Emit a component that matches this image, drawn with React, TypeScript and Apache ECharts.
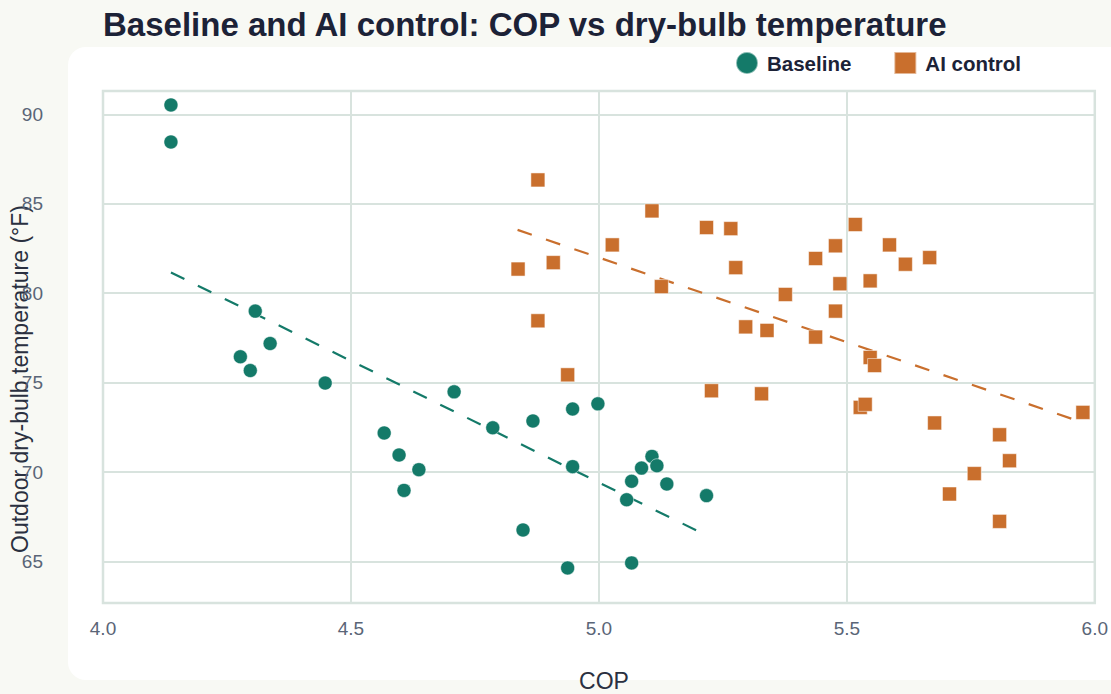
import React, { useEffect, useRef } from "react";
import * as echarts from "echarts";

const baselineCOP = [4.137, 4.137, 4.307, 4.337, 4.277, 4.297, 4.448, 4.708, 4.567, 4.597, 4.637, 4.607, 4.786, 4.867, 4.947, 4.998, 4.947, 4.847, 4.937, 5.066, 5.066, 5.056, 5.086, 5.107, 5.117, 5.137, 5.217];
const baselineTemp = [90.52, 88.45, 79.0, 77.19, 76.45, 75.68, 74.98, 74.49, 72.19, 70.96, 70.14, 68.98, 72.48, 72.86, 73.53, 73.82, 70.31, 66.77, 64.65, 64.93, 69.49, 68.46, 70.23, 70.88, 70.36, 69.34, 68.69];

const aiCOP = [4.877, 4.837, 4.908, 4.877, 4.937, 5.027, 5.107, 5.126, 5.217, 5.266, 5.276, 5.296, 5.227, 5.517, 5.477, 5.437, 5.586, 5.618, 5.667, 5.486, 5.547, 5.376, 5.477, 5.339, 5.437, 5.547, 5.556, 5.328, 5.527, 5.537, 5.677, 5.808, 5.976, 5.828, 5.757, 5.707, 5.808];
const aiTemp = [86.33, 81.35, 81.71, 78.46, 75.44, 82.7, 84.6, 80.37, 83.67, 83.61, 81.43, 78.12, 74.55, 83.84, 82.65, 81.94, 82.7, 81.62, 81.99, 80.53, 80.69, 79.93, 79.0, 77.92, 77.55, 76.41, 75.96, 74.38, 73.62, 73.79, 72.75, 72.09, 73.34, 70.64, 69.92, 68.78, 67.25];

const baselineTrendCOP = [4.137, 5.217];
const baselineTrendTemp = [81.16, 66.47];
const aiTrendCOP = [4.836, 5.976];
const aiTrendTemp = [83.54, 72.77];

const seriesNames = ["Baseline", "AI control"];
const xTicks = { min: 4, max: 6, interval: 0.5 };
const yRange = { min: 62.69, max: 91.3 };

const TEAL = "#147a69";
const ORANGE = "#c96f2d";
const FONT = "'Liberation Sans', Arial, Helvetica, sans-serif";

const zip = (a: number[], b: number[]) => a.map((v, i) => [v, b[i]]);

export default function App() {
  const ref = useRef<HTMLDivElement>(null);
  useEffect(() => {
    if (!ref.current) return;
    const chart = echarts.init(ref.current, null, { renderer: "svg" });
    chart.setOption({
      animation: false,
      backgroundColor: "#f8f9f4",
      title: {
        text: "Baseline and AI control: COP vs dry-bulb temperature",
        left: 98,
        top: 3,
        textStyle: { fontFamily: FONT, fontSize: 33, fontWeight: "bold", color: "#1c2237" },
      },
      legend: {
        data: [
          { name: seriesNames[0], icon: "circle" },
          { name: seriesNames[1], icon: "rect" },
        ],
        left: 735,
        top: 51,
        padding: 0,
        itemWidth: 22,
        itemHeight: 22,
        itemGap: 42,
        textStyle: {
          fontFamily: FONT,
          fontSize: 20.5,
          fontWeight: "bold",
          color: "#1c2237",
          padding: [0, 0, 0, 4],
        },
      },
      graphic: [
        {
          type: "rect",
          z: -10,
          shape: { x: 68, y: 47, width: 1100, height: 633, r: 18 },
          style: { fill: "#ffffff" },
        },
        {
          type: "text",
          x: 20,
          y: 379,
          rotation: Math.PI / 2,
          style: {
            text: "Outdoor dry-bulb temperature (°F)",
            fontFamily: FONT,
            fontSize: 23,
            fill: "#2a3040",
            align: "center",
            verticalAlign: "middle",
          },
        },
        {
          type: "text",
          x: 604,
          y: 681,
          style: {
            text: "COP",
            fontFamily: FONT,
            fontSize: 23,
            fill: "#2a3040",
            align: "center",
            verticalAlign: "middle",
          },
        },
      ],
      grid: {
        left: 103,
        right: 15,
        top: 91,
        bottom: 91,
        show: true,
        borderColor: "#d8e3de",
        borderWidth: 2.5,
        backgroundColor: "transparent",
      },
      xAxis: {
        type: "value",
        min: xTicks.min,
        max: xTicks.max,
        interval: xTicks.interval,
        axisLine: { show: false },
        axisTick: { show: false },
        splitLine: { show: true, lineStyle: { color: "#d8e3de", width: 2 } },
        axisLabel: {
          margin: 16,
          fontFamily: FONT,
          fontSize: 19,
          color: "#5a6577",
          formatter: (v: number) => v.toFixed(1),
        },
      },
      yAxis: {
        type: "value",
        min: yRange.min,
        max: yRange.max,
        axisLine: { show: false },
        axisTick: { show: false },
        splitLine: { show: true, lineStyle: { color: "#d8e3de", width: 2 } },
        axisLabel: {
          margin: 60,
          fontFamily: FONT,
          fontSize: 19,
          color: "#5a6577",
          showMinLabel: false,
          showMaxLabel: false,
          formatter: (v: number) => (Math.abs(v % 5) < 1e-6 ? String(v) : ""),
        },
      },
      series: [
        {
          name: "Baseline trend",
          type: "line",
          data: zip(baselineTrendCOP, baselineTrendTemp),
          symbol: "none",
          z: 1,
          lineStyle: { color: TEAL, width: 2.2, type: [15, 15] },
          silent: true,
        },
        {
          name: "AI control trend",
          type: "line",
          data: zip(aiTrendCOP, aiTrendTemp),
          symbol: "none",
          z: 1,
          lineStyle: { color: ORANGE, width: 2.2, type: [15, 15] },
          silent: true,
        },
        {
          name: seriesNames[0],
          type: "scatter",
          symbol: "circle",
          symbolSize: 14,
          z: 3,
          data: zip(baselineCOP, baselineTemp),
          itemStyle: { color: TEAL, opacity: 1, borderColor: "rgba(255,255,255,0.5)", borderWidth: 1 },
        },
        {
          name: seriesNames[1],
          type: "scatter",
          symbol: "rect",
          symbolSize: 14,
          z: 3,
          data: zip(aiCOP, aiTemp),
          itemStyle: { color: ORANGE, opacity: 1, borderColor: "rgba(255,255,255,0.5)", borderWidth: 1 },
        },
      ],
    });
    return () => chart.dispose();
  }, []);
  return (
    <div
      ref={ref}
      style={{ position: "fixed", left: 0, top: 0, width: 1111, height: 694 }}
    />
  );
}
